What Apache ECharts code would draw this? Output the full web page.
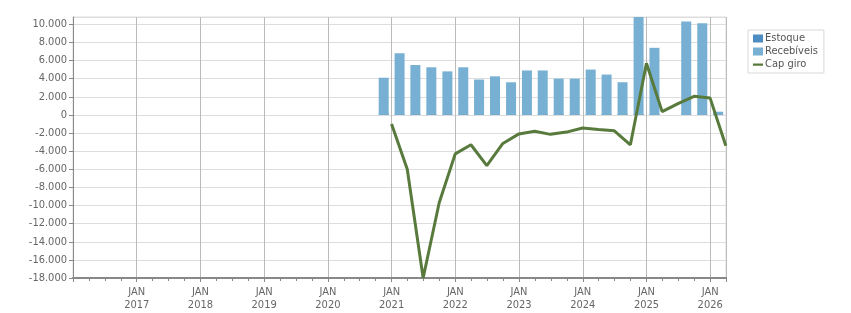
<!DOCTYPE html>
<html>
<head>
<meta charset="utf-8">
<script src="https://cdn.jsdelivr.net/npm/echarts@6/dist/echarts.min.js"></script>
<style>
  html, body { margin: 0; padding: 0; background: #fff; }
  #box { width: 851px; height: 313px; }
</style>
</head>
<body>
<div id="box"></div>
<script>
// trimestres (ano, trimestre)
const quarters = ['2020-4', '2021-1', '2021-2', '2021-3', '2021-4', '2022-1', '2022-2', '2022-3',
  '2022-4', '2023-1', '2023-2', '2023-3', '2023-4', '2024-1', '2024-2', '2024-3', '2024-4',
  '2025-1', '2025-2', '2025-3', '2025-4', '2026-1']
const estoque = [100, 100, 100, 100, 100, 100, 100, 100, 100, 100, 100, 100, 100, 100, 100, 100,
  100, 100, null, 100, 100, 100]
const recebiveis = [4100, 6800, 5500, 5250, 4800, 5250, 3900, 4250, 3600, 4900, 4900, 4000, 4000,
  5000, 4450, 3600, 11000, 7400, null, 10300, 10100, 350]
const capGiro = [-1000, -6000, -18000, -9700, -4300, -3300, -5600, -3150, -2100, -1800, -2150,
  -1900, -1450, -1620, -1760, -3300, 5700, 360, 1250, 2050, 1850, -3400]
const yTicks = [-18000, -16000, -14000, -12000, -10000, -8000, -6000, -4000, -2000, 0, 2000, 4000,
  6000, 8000, 10000]

const DAY = 864e5
const font = '"DejaVu Sans Condensed", "Liberation Sans", sans-serif'
const txt = '#666'

// meio do trimestre para as barras, fim do trimestre para a linha
const qMid = q => {
  const [y, n] = q.split('-').map(Number)
  return (Date.UTC(y, (n - 1) * 3, 1) + Date.UTC(y, n * 3, 1)) / 2
}
const qEnd = q => {
  const [y, n] = q.split('-').map(Number)
  return Date.UTC(y, n * 3, 1) - DAY
}

const fmtNum = v => {
  const s = String(Math.abs(v)).replace(/\B(?=(\d{3})+(?!\d))/g, '.')
  return (v < 0 ? '-' : '') + s
}

// icone de linha grossa na legenda (pontos minimos fixam a caixa 10x8)
const lineIcon = 'path://M0,0h0.01v0.01h-0.01z M0,3h10v2.2h-10z M9.99,8h0.01v0.01h-0.01z'

const chart = echarts.init(document.getElementById('box'))
chart.setOption({
  animation: false,
  textStyle: { fontFamily: font },
  grid: { left: 73, right: 125, top: 17, bottom: 35, show: true, borderColor: '#ddd', borderWidth: 1 },
  legend: {
    orient: 'vertical',
    left: 748,
    top: 30,
    padding: [3, 6, 3, 5],
    itemGap: 2,
    itemWidth: 10,
    itemHeight: 8,
    borderColor: '#d8d8d8',
    borderWidth: 1,
    textStyle: { fontSize: 11, color: '#555', fontFamily: font, padding: [0, 0, 0, -3] },
    data: [
      { name: 'Estoque', icon: 'rect' },
      { name: 'Recebíveis', icon: 'rect' },
      { name: 'Cap giro', icon: lineIcon }
    ]
  },
  xAxis: {
    type: 'value',
    min: Date.UTC(2016, 0, 1),
    max: Date.UTC(2026, 3, 1),
    interval: 365.25 * DAY,
    axisLine: { show: true, onZero: false, lineStyle: { color: '#888', width: 2 } },
    axisTick: { show: true, length: 4, lineStyle: { color: '#888' } },
    minorTick: { show: true, splitNumber: 4, length: 3, lineStyle: { color: '#888' } },
    splitLine: { show: true, lineStyle: { color: '#bbb' } },
    axisLabel: {
      showMinLabel: false,
      showMaxLabel: false,
      margin: 8,
      fontSize: 11,
      lineHeight: 13,
      color: txt,
      formatter: v => {
        const d = new Date(v + 2 * DAY)
        if (d.getUTCMonth() !== 0) return ''
        return 'JAN\n' + d.getUTCFullYear()
      }
    }
  },
  yAxis: {
    type: 'value',
    min: yTicks[0],
    max: 10800,
    interval: 2000,
    axisLine: { show: true, lineStyle: { color: '#888', width: 1 } },
    axisTick: { show: true, length: 4, lineStyle: { color: '#888' } },
    splitLine: { show: true, lineStyle: { color: '#ddd' } },
    axisLabel: {
      showMaxLabel: false,
      margin: 6,
      fontSize: 11,
      color: txt,
      formatter: v => yTicks.includes(v) ? fmtNum(v) : ''
    }
  },
  series: [
    {
      name: 'Estoque',
      type: 'bar',
      stack: 'total',
      barWidth: 10,
      itemStyle: { color: '#4e8dc2' },
      data: quarters.map((q, i) => [qMid(q), estoque[i]])
    },
    {
      name: 'Recebíveis',
      type: 'bar',
      stack: 'total',
      barWidth: 10,
      itemStyle: { color: '#78b0d3' },
      data: quarters.map((q, i) => [qMid(q), recebiveis[i]])
    },
    {
      name: 'Cap giro',
      type: 'line',
      symbol: 'none',
      z: 5,
      lineStyle: { color: '#587a3c', width: 3 },
      itemStyle: { color: '#587a3c' },
      data: quarters.map((q, i) => [qEnd(q), capGiro[i]])
    }
  ]
})
</script>
</body>
</html>
